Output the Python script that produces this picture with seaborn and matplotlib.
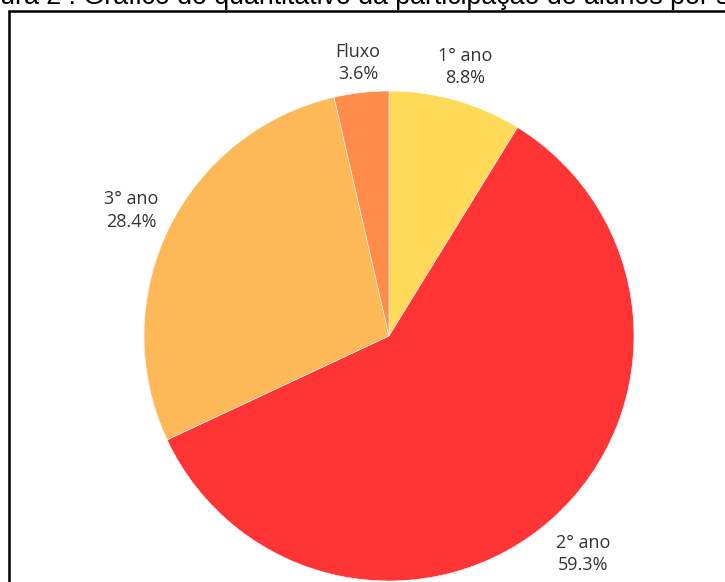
import numpy as np
import matplotlib
matplotlib.use("Agg")
import matplotlib.pyplot as plt
from matplotlib.lines import Line2D
import seaborn as sns

# Participação dos alunos por série
categories = ["1° ano", "2° ano", "3° ano", "Fluxo"]
shares = [8.8, 59.3, 28.4, 3.6]
slice_colors = ["#FFDA58", "#FF3434", "#FDB958", "#FF8C4A"]

sns.set_theme(style="white")
plt.rcParams["font.family"] = ["Open Sans", "DejaVu Sans"]

W, H = 725, 582
fig = plt.figure(figsize=(W / 100, H / 100), dpi=100)
ax = fig.add_axes([0, 0, 1, 1])

palette = sns.color_palette(slice_colors)
cx, cy, r = 389, H - 336, 245
wedges, _ = ax.pie(
    shares, colors=palette, startangle=90, counterclock=False,
    center=(cx, cy), radius=r, frame=True,
    wedgeprops=dict(linewidth=0.4, edgecolor="white"),
)
ax.set_xlim(0, W)
ax.set_ylim(0, H)
ax.set_aspect("equal")
ax.axis("off")

# outside labels: name over percentage
label_dist = [1.14, 1.19, 1.17, 1.12]
for w, name, val, d in zip(wedges, categories, shares, label_dist):
    mid = np.deg2rad((w.theta1 + w.theta2) / 2)
    x = cx + d * r * np.cos(mid)
    y = cy + d * r * np.sin(mid)
    ax.text(x, y, f"{name}\n{val:.1f}%", ha="center", va="center",
            fontsize=13, color="#333333", linespacing=1.3)

# frame around the chart
fig.add_artist(Line2D([9 / W, 9 / W], [0, 1 - 11 / H], transform=fig.transFigure,
                      color="black", linewidth=1.8))
fig.add_artist(Line2D([9 / W, 1], [1 - 11 / H, 1 - 11 / H], transform=fig.transFigure,
                      color="black", linewidth=1.8))

# figure caption
fig.text(-37 / W, 1 - 4.5 / H, "Figura 2 : Gráfico do quantitativo da participação de alunos por série",
         ha="left", va="baseline", fontsize=19.3,
         family=["Liberation Sans", "DejaVu Sans"], color="black")

fig.savefig("out.png", dpi=100)
